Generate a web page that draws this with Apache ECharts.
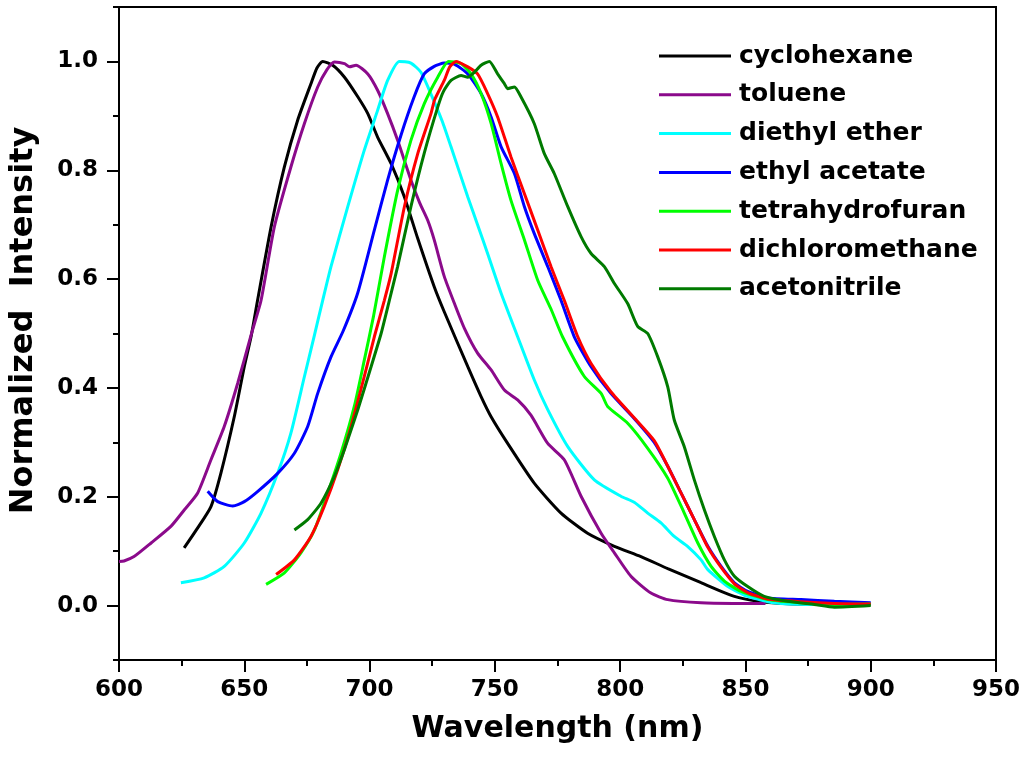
<!DOCTYPE html>
<html><head><meta charset="utf-8">
<script src="https://cdn.jsdelivr.net/npm/echarts@6/dist/echarts.min.js"></script>
<style>html,body{margin:0;padding:0;background:#fff}#c{width:1024px;height:759px}</style>
</head><body><div id="c"></div>
<script>
const seriesNames = ['cyclohexane','toluene','diethyl ether','ethyl acetate','tetrahydrofuran','dichloromethane','acetonitrile'];
const seriesColors = ['#000000','#8b0a8b','#00ffff','#0000ff','#00ff00','#ff0000','#007a00'];

const cyclohexane = [[626,0.106],[631,0.14],[636.7,0.182],[640.7,0.244],[646,0.347],[650,0.439],[652.7,0.494],[655.3,0.561],[660.7,0.696],[666,0.806],[671.3,0.892],[676.6,0.959],[679,0.988],[681.3,1.0],[685.3,0.993],[690,0.971],[695.3,0.935],[699.3,0.904],[703.2,0.861],[708.6,0.812],[713.9,0.751],[719.2,0.675],[725.8,0.586],[729.8,0.54],[739.2,0.439],[744.5,0.384],[748.5,0.347],[755.1,0.298],[765.7,0.225],[776.4,0.170],[787,0.133],[797.7,0.109],[808.3,0.090],[819,0.068],[832.3,0.042],[845.6,0.017],[855,0.008],[865,0.004],[880,0.002],[900,0.002]];
const toluene = [[600,0.081],[602,0.082],[606,0.090],[612.8,0.115],[620.8,0.146],[626.1,0.176],[631.4,0.207],[636.7,0.268],[642,0.329],[647.4,0.409],[652.7,0.497],[656.7,0.561],[662,0.696],[668.6,0.806],[674,0.886],[679.3,0.953],[683,0.985],[686,0.999],[690,0.996],[692,0.99],[694.6,0.993],[699.3,0.977],[703.2,0.947],[707.2,0.904],[711.2,0.855],[716.5,0.782],[720,0.74],[723.2,0.708],[725.8,0.672],[729.8,0.605],[733.8,0.556],[737.8,0.510],[743.1,0.464],[748.5,0.433],[753.8,0.396],[759.1,0.378],[764.4,0.350],[771.1,0.298],[777.7,0.268],[784.4,0.201],[792.4,0.133],[797.7,0.097],[804.3,0.054],[812.3,0.023],[819,0.011],[832.3,0.005],[845,0.004],[858,0.004]];
const diethylEther = [[624.7,0.042],[634,0.051],[642,0.072],[650,0.115],[656.7,0.170],[663.3,0.243],[668.6,0.317],[674,0.421],[678,0.497],[681.3,0.561],[684.6,0.623],[691.3,0.733],[697.9,0.837],[703.2,0.910],[707.2,0.965],[711.9,1.0],[716.5,0.997],[720.5,0.980],[724.5,0.94],[729,0.89],[732.5,0.843],[739.2,0.751],[743.1,0.700],[747.1,0.647],[752.5,0.574],[759.1,0.494],[765.7,0.415],[771.1,0.360],[779.1,0.292],[789.7,0.231],[800.3,0.201],[805.6,0.190],[811,0.170],[816.3,0.152],[821.6,0.127],[826.9,0.109],[832.3,0.084],[835,0.066],[843,0.035],[850.9,0.017],[861.5,0.005],[875,0.002],[900,0.002]];
const ethylAcetate = [[635.4,0.210],[639.4,0.191],[645.4,0.183],[650,0.191],[655.4,0.210],[663.3,0.243],[670,0.280],[675.3,0.329],[679.3,0.390],[684.6,0.457],[689.5,0.505],[695.3,0.575],[701.9,0.690],[707.2,0.782],[712.5,0.864],[717.8,0.935],[721.8,0.977],[725.8,0.991],[729.8,0.997],[733.8,0.995],[739.2,0.977],[744.5,0.941],[748.5,0.898],[752.5,0.843],[757.8,0.794],[761.8,0.733],[765.7,0.684],[771.1,0.623],[776.4,0.561],[781.7,0.494],[788.4,0.439],[796.3,0.390],[805.6,0.344],[813.6,0.300],[819,0.256],[824.3,0.207],[829.6,0.158],[835,0.109],[840.3,0.072],[845.6,0.042],[850.9,0.026],[858.9,0.014],[872.2,0.011],[885.5,0.008],[900,0.005]];
const tetrahydrofuran = [[658.7,0.039],[666,0.060],[672.6,0.097],[678,0.139],[683.3,0.207],[688.6,0.280],[693.9,0.366],[697.9,0.451],[701.5,0.53],[705.9,0.641],[711.2,0.763],[716.5,0.855],[721.8,0.922],[727.2,0.971],[731.5,1.0],[736.5,0.996],[740.5,0.977],[744.5,0.941],[748.5,0.886],[752.5,0.812],[756.4,0.745],[761.8,0.672],[767.1,0.598],[772.4,0.545],[777,0.494],[785.7,0.421],[792.4,0.390],[795,0.366],[803,0.335],[811,0.289],[819,0.234],[825.6,0.170],[831,0.115],[836.3,0.072],[841.6,0.045],[848.3,0.026],[858.9,0.011],[872.2,0.005],[885.5,0.002],[900,0.003]];
const dichloromethane = [[662.7,0.057],[670,0.084],[676.6,0.127],[681.9,0.182],[687.3,0.250],[692.6,0.329],[697.9,0.421],[701.9,0.494],[705.9,0.561],[708.6,0.610],[713.9,0.733],[719.2,0.830],[724.5,0.904],[726,0.93],[729.8,0.965],[732,0.99],[734.5,1.0],[739.2,0.990],[743.1,0.977],[747.1,0.941],[751.1,0.898],[756.4,0.825],[761.8,0.757],[767.1,0.690],[772.4,0.623],[777.7,0.561],[783.1,0.494],[788.4,0.445],[796.3,0.393],[805.6,0.345],[813.6,0.303],[819,0.256],[824.3,0.207],[829.6,0.158],[835,0.107],[840.3,0.070],[845.6,0.040],[850.9,0.024],[858.9,0.012],[872.2,0.007],[885.5,0.004],[900,0.003]];
const acetonitrile = [[670,0.139],[675.3,0.158],[680.6,0.188],[685.9,0.237],[689.9,0.286],[695.3,0.360],[700.6,0.439],[704.6,0.50],[707.9,0.561],[711.2,0.623],[716.5,0.733],[721.8,0.831],[727.2,0.916],[729.5,0.945],[732.5,0.965],[736.5,0.974],[739.2,0.971],[741.8,0.980],[744.5,0.993],[747.8,1.0],[751.1,0.977],[753.8,0.959],[755.1,0.950],[757.8,0.953],[760.4,0.935],[765.7,0.886],[769.7,0.831],[773.7,0.794],[779.1,0.733],[784.4,0.678],[788.4,0.647],[793.7,0.623],[797.7,0.592],[803,0.555],[807,0.513],[811,0.50],[815,0.457],[819,0.402],[821.6,0.341],[825.6,0.292],[829.6,0.231],[833.6,0.176],[837.6,0.127],[841.6,0.084],[845.6,0.054],[850.9,0.035],[857.5,0.017],[866.9,0.008],[877.5,0.002],[885.5,-0.003],[900,0.0]];

const seriesData = [cyclohexane, toluene, diethylEther, ethylAcetate, tetrahydrofuran, dichloromethane, acetonitrile];

const xMin = 600, xMax = 950, xStep = 50;
const yMin = -0.1, yMax = 1.1;
const yMajorTicks = [0.0, 0.2, 0.4, 0.6, 0.8, 1.0];
const yMinorTicks = [-0.1, 0.1, 0.3, 0.5, 0.7, 0.9, 1.1];
const xTitle = 'Wavelength (nm)';
const yTitle = 'Normalized  Intensity';

const FONT = 'DejaVu Sans';
const chart = echarts.init(document.getElementById('c'), null, {renderer: 'canvas'});
const axisLineStyle = {color: '#000', width: 2};

chart.setOption({
  animation: false,
  backgroundColor: '#fff',
  grid: {left: 118, right: 28, top: 7, bottom: 99, show: true, borderColor: '#000', borderWidth: 2, backgroundColor: 'transparent', containLabel: false},
  legend: {
    orient: 'vertical', left: 659, top: 41, padding: 0, selectedMode: false,
    icon: 'rect', itemWidth: 72, itemHeight: 3, itemGap: 8.8,
    textStyle: {fontFamily: FONT, fontWeight: 'bold', fontSize: 25, color: '#000', lineHeight: 30, padding: [0, 0, 0, 3]},
    data: seriesNames
  },
  xAxis: {
    type: 'value', min: xMin, max: xMax, interval: xStep,
    axisLine: {show: true, onZero: false, lineStyle: axisLineStyle},
    axisTick: {show: true, inside: false, length: 12, lineStyle: axisLineStyle},
    minorTick: {show: true, splitNumber: 2, length: 6, lineStyle: axisLineStyle},
    splitLine: {show: false},
    axisLabel: {fontFamily: FONT, fontWeight: 'bold', fontSize: 23, color: '#000', margin: 19},
    name: xTitle, nameLocation: 'middle', nameGap: 54,
    nameTextStyle: {fontFamily: FONT, fontWeight: 'bold', fontSize: 30, color: '#000'}
  },
  yAxis: [{
    type: 'value', min: yMin, max: yMax, position: 'left',
    axisLine: {show: true, onZero: false, lineStyle: axisLineStyle},
    axisTick: {show: true, inside: false, length: 12, lineStyle: axisLineStyle, customValues: yMajorTicks},
    splitLine: {show: false},
    axisLabel: {fontFamily: FONT, fontWeight: 'bold', fontSize: 23, color: '#000', margin: 21,
      customValues: yMajorTicks, formatter: v => v.toFixed(1)},
    name: yTitle, nameLocation: 'middle', nameGap: 79,
    nameTextStyle: {fontFamily: FONT, fontWeight: 'bold', fontSize: 32, color: '#000', padding: [0, 0, 0, 26]}
  }, {
    type: 'value', min: yMin, max: yMax, position: 'left',
    axisLine: {show: false},
    axisTick: {show: true, inside: false, length: 6, lineStyle: axisLineStyle, customValues: yMinorTicks},
    axisLabel: {show: false},
    splitLine: {show: false}
  }],
  series: seriesNames.map((n, i) => ({
    name: n, type: 'line', yAxisIndex: 0, data: seriesData[i],
    showSymbol: false, symbol: 'none', smooth: 0.2,
    lineStyle: {color: seriesColors[i], width: 3},
    itemStyle: {color: seriesColors[i]},
    z: 2 + i
  }))
});
</script></body></html>
